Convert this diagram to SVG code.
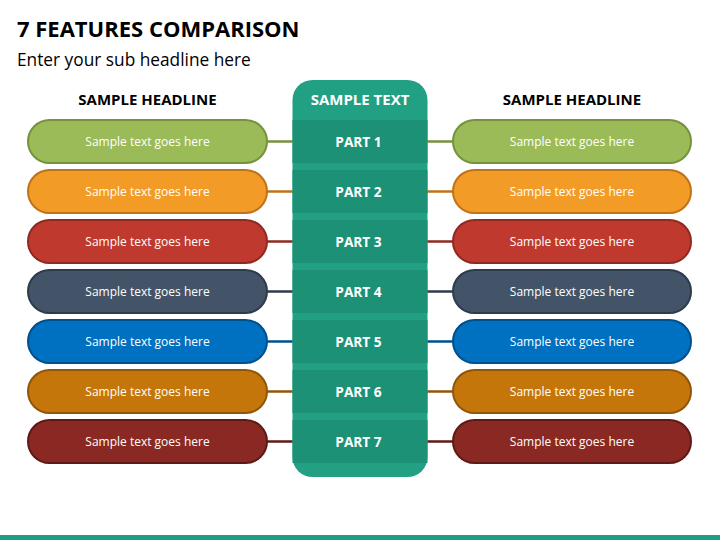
<svg xmlns="http://www.w3.org/2000/svg" width="720" height="540" viewBox="0 0 720 540">
<style>
.title{font-family:"Open Sans","Liberation Sans",sans-serif;font-weight:bold;font-size:22px;fill:#000}
.sub{font-family:"Open Sans","Liberation Sans",sans-serif;font-size:17.3px;fill:#000}
.hd{font-family:"Open Sans","Liberation Sans",sans-serif;font-weight:bold;font-size:15px;fill:#000;text-anchor:middle}
.ct{font-family:"Open Sans","Liberation Sans",sans-serif;font-weight:bold;font-size:15px;fill:#fff;text-anchor:middle}
.pn{font-family:"Open Sans","Liberation Sans",sans-serif;font-weight:bold;font-size:13.7px;fill:#fff;text-anchor:middle}
.pt{font-family:"Open Sans","Liberation Sans",sans-serif;font-size:12px;fill:#fff;text-anchor:middle;dominant-baseline:central}
.pill{stroke-width:2}
.band{fill:#1D9176}
.conn{stroke-width:2.5;fill:none}
</style>
<rect width="720" height="540" fill="#fff"/>
<text class="title" x="17" y="37">7 FEATURES COMPARISON</text>
<text class="sub" x="17" y="66">Enter your sub headline here</text>
<text class="hd" x="147.5" y="105">SAMPLE HEADLINE</text>
<text class="hd" x="572" y="105">SAMPLE HEADLINE</text>

<g id="connectors">
<line class="conn" x1="266" y1="141.5" x2="454" y2="141.5" stroke="#76923C"/>
<line class="conn" x1="266" y1="191.5" x2="454" y2="191.5" stroke="#C0721A"/>
<line class="conn" x1="266" y1="241.5" x2="454" y2="241.5" stroke="#8E2A22"/>
<line class="conn" x1="266" y1="291.5" x2="454" y2="291.5" stroke="#2E3B4C"/>
<line class="conn" x1="266" y1="341.5" x2="454" y2="341.5" stroke="#00508C"/>
<line class="conn" x1="266" y1="391.5" x2="454" y2="391.5" stroke="#8F560A"/>
<line class="conn" x1="266" y1="441.5" x2="454" y2="441.5" stroke="#5E1A15"/>
</g>

<g id="column">
<rect x="292.5" y="80" width="135" height="397" rx="20" fill="#21A084"/>
<rect class="band" x="292.5" y="120" width="135" height="43"/>
<rect class="band" x="292.5" y="170" width="135" height="43"/>
<rect class="band" x="292.5" y="220" width="135" height="43"/>
<rect class="band" x="292.5" y="270" width="135" height="43"/>
<rect class="band" x="292.5" y="320" width="135" height="43"/>
<rect class="band" x="292.5" y="370" width="135" height="43"/>
<rect class="band" x="292.5" y="420" width="135" height="43"/>
<text class="ct" x="360" y="105">SAMPLE TEXT</text>
<text class="pn" x="358.5" y="146.5">PART 1</text>
<text class="pn" x="358.5" y="196.5">PART 2</text>
<text class="pn" x="358.5" y="246.5">PART 3</text>
<text class="pn" x="358.5" y="296.5">PART 4</text>
<text class="pn" x="358.5" y="346.5">PART 5</text>
<text class="pn" x="358.5" y="396.5">PART 6</text>
<text class="pn" x="358.5" y="446.5">PART 7</text>
</g>

<g id="left-1"><rect class="pill" x="28" y="120" width="239" height="43" rx="21.5" fill="#9BBB59" stroke="#76923C"/><text class="pt" x="147.5" y="141.5">Sample text goes here</text></g>
<g id="left-2"><rect class="pill" x="28" y="170" width="239" height="43" rx="21.5" fill="#F39B27" stroke="#C0721A"/><text class="pt" x="147.5" y="191.5">Sample text goes here</text></g>
<g id="left-3"><rect class="pill" x="28" y="220" width="239" height="43" rx="21.5" fill="#C0392F" stroke="#8E2A22"/><text class="pt" x="147.5" y="241.5">Sample text goes here</text></g>
<g id="left-4"><rect class="pill" x="28" y="270" width="239" height="43" rx="21.5" fill="#445468" stroke="#2E3B4C"/><text class="pt" x="147.5" y="291.5">Sample text goes here</text></g>
<g id="left-5"><rect class="pill" x="28" y="320" width="239" height="43" rx="21.5" fill="#0070C0" stroke="#00508C"/><text class="pt" x="147.5" y="341.5">Sample text goes here</text></g>
<g id="left-6"><rect class="pill" x="28" y="370" width="239" height="43" rx="21.5" fill="#C5760B" stroke="#8F560A"/><text class="pt" x="147.5" y="391.5">Sample text goes here</text></g>
<g id="left-7"><rect class="pill" x="28" y="420" width="239" height="43" rx="21.5" fill="#8A2923" stroke="#5E1A15"/><text class="pt" x="147.5" y="441.5">Sample text goes here</text></g>

<g id="right-1"><rect class="pill" x="453" y="120" width="238" height="43" rx="21.5" fill="#9BBB59" stroke="#76923C"/><text class="pt" x="572" y="141.5">Sample text goes here</text></g>
<g id="right-2"><rect class="pill" x="453" y="170" width="238" height="43" rx="21.5" fill="#F39B27" stroke="#C0721A"/><text class="pt" x="572" y="191.5">Sample text goes here</text></g>
<g id="right-3"><rect class="pill" x="453" y="220" width="238" height="43" rx="21.5" fill="#C0392F" stroke="#8E2A22"/><text class="pt" x="572" y="241.5">Sample text goes here</text></g>
<g id="right-4"><rect class="pill" x="453" y="270" width="238" height="43" rx="21.5" fill="#445468" stroke="#2E3B4C"/><text class="pt" x="572" y="291.5">Sample text goes here</text></g>
<g id="right-5"><rect class="pill" x="453" y="320" width="238" height="43" rx="21.5" fill="#0070C0" stroke="#00508C"/><text class="pt" x="572" y="341.5">Sample text goes here</text></g>
<g id="right-6"><rect class="pill" x="453" y="370" width="238" height="43" rx="21.5" fill="#C5760B" stroke="#8F560A"/><text class="pt" x="572" y="391.5">Sample text goes here</text></g>
<g id="right-7"><rect class="pill" x="453" y="420" width="238" height="43" rx="21.5" fill="#8A2923" stroke="#5E1A15"/><text class="pt" x="572" y="441.5">Sample text goes here</text></g>

<rect x="0" y="535" width="720" height="5" fill="#1E9D80"/>
</svg>
